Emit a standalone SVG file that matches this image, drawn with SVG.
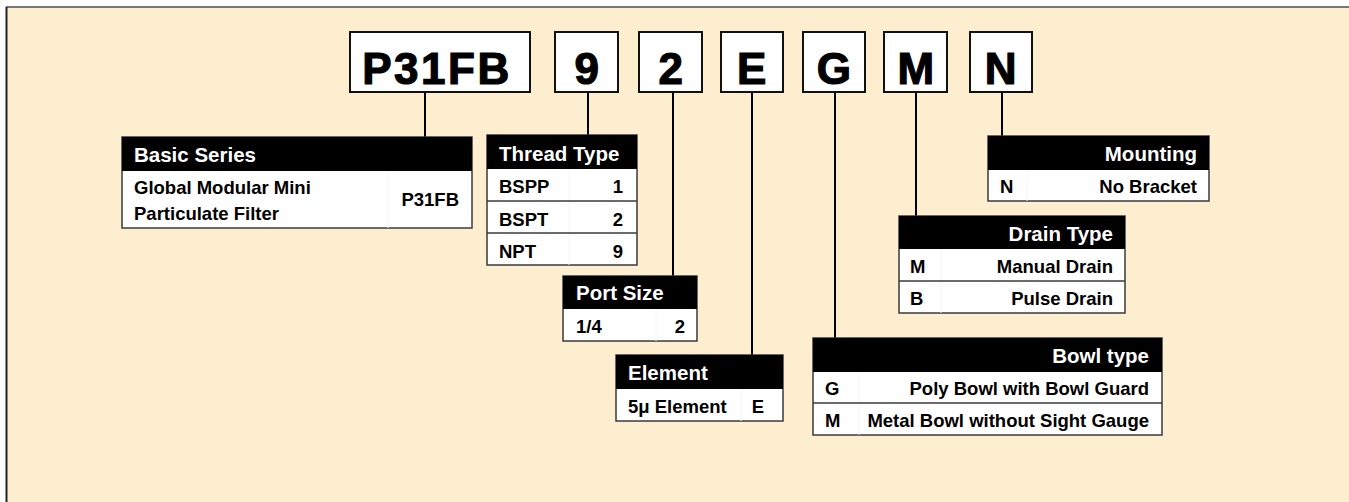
<svg xmlns="http://www.w3.org/2000/svg" width="1349" height="502" viewBox="0 0 1349 502">
<style>
.bg{fill:#FEEED0}
.code{fill:#fff;stroke:#111;stroke-width:2}
.codet{font-family:"Liberation Sans",Arial,sans-serif;font-weight:bold;font-size:44px;fill:#000;stroke:#000;stroke-width:1.2;text-anchor:middle;letter-spacing:2.5px}
.tbl{fill:#fff;stroke:#3a3a3a;stroke-width:1.5}
.hdr{fill:#000}
.ht{font-family:"Liberation Sans",Arial,sans-serif;font-weight:bold;font-size:20.5px;fill:#fff}
.bt{font-family:"Liberation Sans",Arial,sans-serif;font-weight:bold;font-size:18.5px;fill:#000}
.r{text-anchor:end}
.row{stroke:#3a3a3a;stroke-width:1.5}
.sep{stroke:#f6f6f6;stroke-width:1}
.conn{stroke:#000;stroke-width:2;fill:none}
</style>
<rect x="0" y="0" width="1349" height="502" fill="#fff"/>
<rect class="bg" x="6" y="7" width="1343" height="495"/>
<line x1="6" y1="7" x2="1349" y2="7" stroke="#777" stroke-width="2"/>
<line x1="6.5" y1="7" x2="6.5" y2="502" stroke="#222" stroke-width="2"/>

<g id="connectors">
<line class="conn" x1="425" y1="92" x2="425" y2="137"/>
<line class="conn" x1="588" y1="92" x2="588" y2="135"/>
<line class="conn" x1="673" y1="92" x2="673" y2="276"/>
<line class="conn" x1="752" y1="92" x2="752" y2="355"/>
<line class="conn" x1="835" y1="92" x2="835" y2="338"/>
<line class="conn" x1="916" y1="92" x2="916" y2="216"/>
<line class="conn" x1="1002" y1="92" x2="1002" y2="136"/>
</g>

<g id="code-P31FB"><rect class="code" x="350" y="32" width="180" height="60"/><text class="codet" x="437" y="84">P31FB</text></g>
<g id="code-9"><rect class="code" x="555" y="32" width="63" height="60"/><text class="codet" x="588" y="84">9</text></g>
<g id="code-2"><rect class="code" x="639" y="32" width="63" height="60"/><text class="codet" x="672" y="84">2</text></g>
<g id="code-E"><rect class="code" x="721" y="32" width="62" height="60"/><text class="codet" x="753" y="84">E</text></g>
<g id="code-G"><rect class="code" x="803" y="32" width="62" height="60"/><text class="codet" x="835" y="84">G</text></g>
<g id="code-M"><rect class="code" x="884" y="32" width="63" height="60"/><text class="codet" x="917" y="84">M</text></g>
<g id="code-N"><rect class="code" x="970" y="32" width="62" height="60"/><text class="codet" x="1002" y="84">N</text></g>

<g id="basic-series">
<rect class="tbl" x="122" y="137" width="350" height="91"/>
<line class="sep" x1="388" y1="171" x2="388" y2="228"/>
<rect class="hdr" x="122" y="137" width="350" height="34"/>
<text class="ht" x="134" y="162">Basic Series</text>
<text class="bt" x="134" y="194">Global Modular Mini</text>
<text class="bt" x="134" y="220">Particulate Filter</text>
<text class="bt r" x="459" y="206">P31FB</text>
</g>

<g id="thread-type">
<rect class="tbl" x="487" y="135" width="150" height="130"/>
<line class="sep" x1="569" y1="169" x2="569" y2="265"/>
<rect class="hdr" x="487" y="135" width="150" height="34"/>
<line class="row" x1="487" y1="201" x2="637" y2="201"/>
<line class="row" x1="487" y1="233" x2="637" y2="233"/>
<text class="ht" x="499" y="161">Thread Type</text>
<text class="bt" x="499" y="193">BSPP</text><text class="bt r" x="623" y="193">1</text>
<text class="bt" x="499" y="226">BSPT</text><text class="bt r" x="623" y="226">2</text>
<text class="bt" x="499" y="258">NPT</text><text class="bt r" x="623" y="258">9</text>
</g>

<g id="port-size">
<rect class="tbl" x="563" y="276" width="134" height="65"/>
<line class="sep" x1="656" y1="309" x2="656" y2="341"/>
<rect class="hdr" x="563" y="276" width="134" height="33"/>
<text class="ht" x="576" y="300">Port Size</text>
<text class="bt" x="576" y="333">1/4</text><text class="bt r" x="685" y="333">2</text>
</g>

<g id="element">
<rect class="tbl" x="616" y="355" width="167" height="66"/>
<line class="sep" x1="741" y1="389" x2="741" y2="421"/>
<rect class="hdr" x="616" y="355" width="167" height="34"/>
<text class="ht" x="628" y="380">Element</text>
<text class="bt" x="628" y="413">5μ Element</text><text class="bt r" x="764" y="413">E</text>
</g>

<g id="bowl-type">
<rect class="tbl" x="813" y="338" width="349" height="97"/>
<line class="sep" x1="859" y1="372" x2="859" y2="435"/>
<rect class="hdr" x="813" y="338" width="349" height="34"/>
<line class="row" x1="813" y1="403" x2="1162" y2="403"/>
<text class="ht r" x="1149" y="363">Bowl type</text>
<text class="bt" x="825" y="395">G</text><text class="bt r" x="1149" y="395">Poly Bowl with Bowl Guard</text>
<text class="bt" x="825" y="427">M</text><text class="bt r" x="1149" y="427">Metal Bowl without Sight Gauge</text>
</g>

<g id="drain-type">
<rect class="tbl" x="899" y="216" width="226" height="97"/>
<line class="sep" x1="941" y1="249" x2="941" y2="313"/>
<rect class="hdr" x="899" y="216" width="226" height="33"/>
<line class="row" x1="899" y1="281" x2="1125" y2="281"/>
<text class="ht r" x="1113" y="241">Drain Type</text>
<text class="bt" x="910" y="273">M</text><text class="bt r" x="1113" y="273">Manual Drain</text>
<text class="bt" x="910" y="305">B</text><text class="bt r" x="1113" y="305">Pulse Drain</text>
</g>

<g id="mounting">
<rect class="tbl" x="988" y="136" width="221" height="65"/>
<line class="sep" x1="1027" y1="170" x2="1027" y2="201"/>
<rect class="hdr" x="988" y="136" width="221" height="34"/>
<text class="ht r" x="1197" y="161">Mounting</text>
<text class="bt" x="1000" y="193">N</text><text class="bt r" x="1197" y="193">No Bracket</text>
</g>
</svg>
